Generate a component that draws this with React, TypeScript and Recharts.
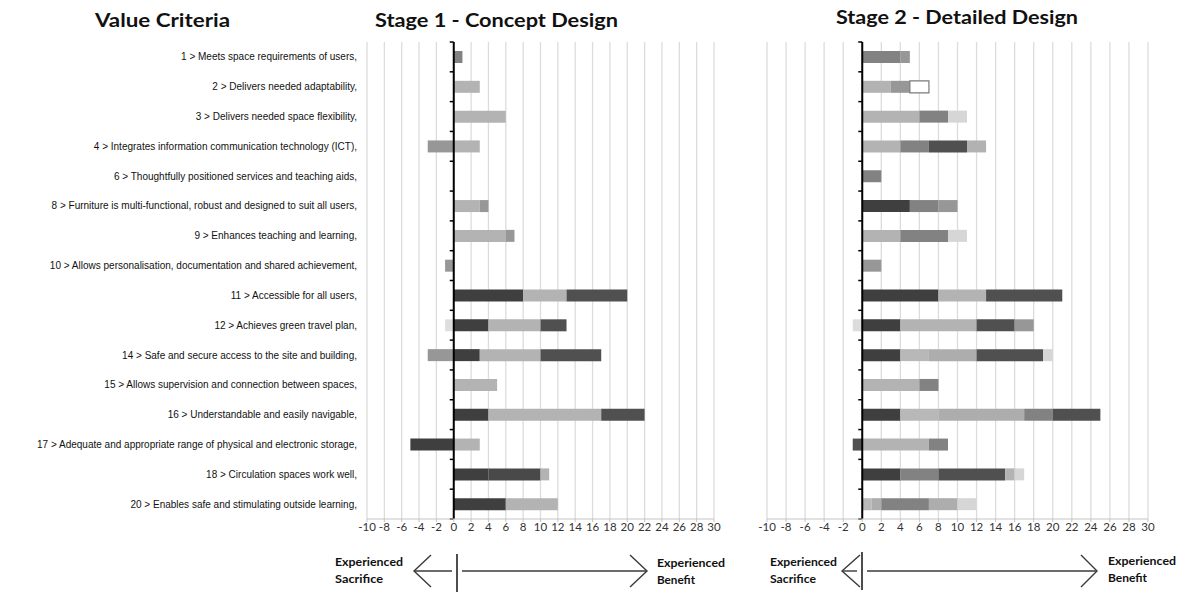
import React from "react";
import { BarChart, Bar, XAxis, YAxis, CartesianGrid, ReferenceLine, Cell } from "recharts";

// ---------- data ----------
const criteria = [
  "1 > Meets space requirements of users,",
  "2 > Delivers needed adaptability,",
  "3 > Delivers needed space flexibility,",
  "4 > Integrates information communication technology (ICT),",
  "6 > Thoughtfully positioned services and teaching aids,",
  "8 > Furniture is multi-functional, robust and designed to suit all users,",
  "9 > Enhances teaching and learning,",
  "10 > Allows personalisation, documentation and shared achievement,",
  "11 > Accessible for all users,",
  "12 > Achieves green travel plan,",
  "14 > Safe and secure access to the site and building,",
  "15 > Allows supervision and connection between spaces,",
  "16 > Understandable and easily navigable,",
  "17 > Adequate and appropriate range of physical and electronic storage,",
  "18 > Circulation spaces work well,",
  "20 > Enables safe and stimulating outside learning,",
];

const xTicks = [-10, -8, -6, -4, -2, 0, 2, 4, 6, 8, 10, 12, 14, 16, 18, 20, 22, 24, 26, 28, 30];

// Stage 1 - Concept Design
const s1Neg = [0, 0, 0, -3, 0, 0, 0, -1, 0, -1, -3, 0, 0, -5, 0, 0];
const s1Seg1 = [1, 3, 6, 3, 0, 3, 6, 0, 8, 4, 3, 5, 4, 3, 4, 6];
const s1Seg2 = [0, 0, 0, 0, 0, 1, 1, 0, 5, 6, 7, 0, 13, 0, 6, 6];
const s1Seg3 = [0, 0, 0, 0, 0, 0, 0, 0, 7, 3, 7, 0, 5, 0, 1, 0];

// Stage 2 - Detailed Design
const s2Neg = [0, 0, 0, 0, 0, 0, 0, 0, 0, -1, 0, 0, 0, -1, 0, 0];
const s2Seg1 = [4, 3, 6, 4, 2, 5, 4, 2, 8, 4, 4, 6, 4, 7, 4, 1];
const s2Seg2 = [1, 2, 3, 3, 0, 3, 5, 0, 5, 8, 3, 2, 4, 2, 4, 1];
const s2Seg3 = [0, 2, 2, 4, 0, 2, 2, 0, 8, 4, 5, 0, 9, 0, 7, 5];
const s2Seg4 = [0, 0, 0, 2, 0, 0, 0, 0, 0, 2, 7, 0, 3, 0, 1, 3];
const s2Seg5 = [0, 0, 0, 0, 0, 0, 0, 0, 0, 0, 1, 0, 5, 0, 1, 2];

// ---------- styles ----------
const DK = "#3f3f3f";
const DG = "#505050";
const MD = "#828282";
const MM = "#979797";
const LT = "#b3b3b3";
const LT2 = "#adadad";
const VL = "#d6d6d6";
const GL = "#b0b3b0";
const WH = "#ffffff";

const s1NegC = [WH, WH, WH, MM, WH, WH, WH, MM, WH, "#dedede", MM, WH, WH, DK, WH, WH];
const s1Seg1C = [MD, LT, LT, LT, LT, LT, LT, LT, DK, DK, DK, LT, DK, LT, DK, DK];
const s1Seg2C = [LT, LT, LT, LT, LT, MM, MM, LT, LT, LT, LT, LT, LT, LT, "#494949", LT];
const s1Seg3C = [DG, DG, DG, DG, DG, DG, DG, DG, DG, DG, DG, DG, DG, DG, LT, DG];

const s2NegC = [WH, WH, WH, WH, WH, WH, WH, WH, WH, "#dcdcdc", WH, WH, WH, DG, WH, WH];
const s2Seg1C = [MD, LT, LT, LT, MD, DK, LT, MM, DK, DK, DK, LT, DK, LT, DK, "#b8b8b8"];
const s2Seg2C = [MM, MM, MD, MD, MD, MD, MD, MD, LT, LT, "#b8b8b8", MD, "#b8b8b8", MD, MD, LT2];
const s2Seg3C = [WH, WH, VL, DG, WH, MM, VL, WH, DG, DG, LT2, WH, LT2, WH, DG, MD];
const s2Seg4C = [WH, WH, WH, GL, WH, WH, WH, WH, WH, MM, DG, WH, MD, WH, LT, LT2];
const s2Seg5C = [WH, WH, WH, WH, WH, WH, WH, WH, WH, WH, VL, WH, DG, WH, VL, VL];

const stage1 = criteria.map((label, i) => ({
  label,
  neg: s1Neg[i],
  a: s1Seg1[i],
  b: s1Seg2[i],
  c: s1Seg3[i],
}));

const stage2 = criteria.map((label, i) => ({
  label,
  neg: s2Neg[i],
  a: s2Seg1[i],
  b: s2Seg2[i],
  c: s2Seg3[i],
  d: s2Seg4[i],
  e: s2Seg5[i],
}));

const TICK_FONT = "Lato, 'Open Sans', sans-serif";

const ZeroAxis = (props: any) => {
  const { x1, y1, x2, y2 } = props;
  const n = criteria.length;
  const ticks = [];
  for (let i = 0; i <= n; i++) {
    const y = y1 + ((y2 - y1) * i) / n;
    ticks.push(<line key={i} x1={x1 - 4} x2={x1} y1={y} y2={y} stroke="#000" strokeWidth={1.5} />);
  }
  return (
    <g>
      <line x1={x1} y1={y1} x2={x2} y2={y2} stroke="#000" strokeWidth={2} />
      {ticks}
    </g>
  );
};

const CategoryTick = (props: any) => {
  const { x, y, payload } = props;
  return (
    <text
      x={x}
      y={y}
      dy="0.35em"
      textAnchor="end"
      fontSize={10}
      fill="#111"
      fontFamily="'Liberation Sans', Arial, sans-serif"
    >
      {payload.value}
    </text>
  );
};

const renderBar = (key: string, colors: string[], values: number[], outlineIdx: number[] = []) => (
  <Bar key={key} dataKey={key} stackId="s" barSize={12} isAnimationActive={false}>
    {values.map((_, i) => (
      <Cell
        key={i}
        fill={colors[i]}
        stroke={outlineIdx.includes(i) ? "#7a7a7a" : "none"}
        strokeWidth={outlineIdx.includes(i) ? 1.2 : 0}
      />
    ))}
  </Bar>
);

const xAxisProps = {
  type: "number" as const,
  domain: [-10, 30],
  ticks: xTicks,
  interval: 0 as const,
  tick: { fontSize: 11.5, fill: "#333", fontFamily: TICK_FONT },
  tickSize: 3,
  tickMargin: 1,
  axisLine: { stroke: "#c4c4c4" },
  tickLine: { stroke: "#c4c4c4" },
  height: 20,
  allowDataOverflow: true,
};

const Stage1 = () => (
  <BarChart
    width={740}
    height={545}
    data={stage1}
    layout="vertical"
    stackOffset="sign"
    barCategoryGap="30%"
    margin={{ top: 42, right: 26, bottom: 6, left: 0 }}
  >
    <CartesianGrid horizontal={false} stroke="#dcdcdc" strokeWidth={1.3} />
    <XAxis {...xAxisProps} />
    <YAxis
      type="category"
      dataKey="label"
      width={367}
      axisLine={false}
      tickLine={false}
      tickSize={6}
      tickMargin={4}
      interval={0}
      tick={CategoryTick}
    />
    {renderBar("neg", s1NegC, s1Neg)}
    {renderBar("a", s1Seg1C, s1Seg1)}
    {renderBar("b", s1Seg2C, s1Seg2)}
    {renderBar("c", s1Seg3C, s1Seg3)}
    <ReferenceLine x={0} shape={ZeroAxis} />
  </BarChart>
);

const Stage2 = () => (
  <BarChart
    width={449}
    height={545}
    data={stage2}
    layout="vertical"
    stackOffset="sign"
    barCategoryGap="30%"
    margin={{ top: 42, right: 41, bottom: 6, left: 27 }}
  >
    <CartesianGrid horizontal={false} stroke="#dcdcdc" strokeWidth={1.3} />
    <XAxis {...xAxisProps} />
    <YAxis type="category" dataKey="label" hide />
    {renderBar("neg", s2NegC, s2Neg)}
    {renderBar("a", s2Seg1C, s2Seg1)}
    {renderBar("b", s2Seg2C, s2Seg2)}
    {renderBar("c", s2Seg3C, s2Seg3, [1])}
    {renderBar("d", s2Seg4C, s2Seg4)}
    {renderBar("e", s2Seg5C, s2Seg5)}
    <ReferenceLine x={0} shape={ZeroAxis} />
  </BarChart>
);

const TITLE_FONT = "Lato, 'Open Sans', sans-serif";

const Arrow = ({ leftTip, leftArm, vx, rightStart, rightTip, rightArm, y, top, bottom }: any) => (
  <g stroke="#3a3a3a" strokeWidth={1.4} fill="none">
    <polyline points={`${leftArm},${y - 16} ${leftTip},${y} ${leftArm},${y + 16}`} />
    <line x1={leftTip} y1={y} x2={vx - 5} y2={y} />
    <line x1={vx} y1={top} x2={vx} y2={bottom} strokeWidth={1.8} />
    <line x1={rightStart} y1={y} x2={rightTip} y2={y} />
    <polyline points={`${rightArm},${y - 16} ${rightTip},${y} ${rightArm},${y + 16}`} />
  </g>
);

const Label2 = ({ x, y, l1, l2, w1, w2 }: any) => (
  <g fontFamily={TITLE_FONT} fontWeight={700} fontSize={10.5} fill="#111">
    <text x={x} y={y} textLength={w1} lengthAdjust="spacingAndGlyphs">{l1}</text>
    <text x={x} y={y + 17} textLength={w2} lengthAdjust="spacingAndGlyphs">{l2}</text>
  </g>
);

export default function App() {
  return (
    <div style={{ position: "absolute", left: 0, top: 0, width: 1189, height: 592, background: "#fff", overflow: "hidden" }}>
      <div style={{ position: "absolute", left: 0, top: 0 }}>
        <Stage1 />
      </div>
      <div style={{ position: "absolute", left: 740, top: 0 }}>
        <Stage2 />
      </div>
      <svg width={1189} height={592} style={{ position: "absolute", left: 0, top: 0, pointerEvents: "none" }}>
        <g fontFamily={TITLE_FONT} fontWeight={700} fontSize={19} fill="#111">
          <text x={95} y={27} textLength={135} lengthAdjust="spacingAndGlyphs">Value Criteria</text>
          <text x={375} y={27} textLength={243} lengthAdjust="spacingAndGlyphs">Stage 1 - Concept Design</text>
          <text x={836} y={24} textLength={242} lengthAdjust="spacingAndGlyphs">Stage 2 - Detailed Design</text>
        </g>
        <Arrow leftTip={414} leftArm={431} vx={457} rightStart={462} rightTip={647} rightArm={630} y={571} top={554} bottom={592} />
        <Arrow leftTip={842} leftArm={860} vx={862} rightStart={867} rightTip={1097} rightArm={1081} y={571} top={552} bottom={590} />
        <Label2 x={335} y={566} l1="Experienced" l2="Sacrifice" w1={68} w2={48} />
        <Label2 x={657} y={567} l1="Experienced" l2="Benefit" w1={68} w2={38} />
        <Label2 x={770} y={566} l1="Experienced" l2="Sacrifice" w1={67} w2={46} />
        <Label2 x={1108} y={565} l1="Experienced" l2="Benefit" w1={68} w2={39} />
      </svg>
    </div>
  );
}
